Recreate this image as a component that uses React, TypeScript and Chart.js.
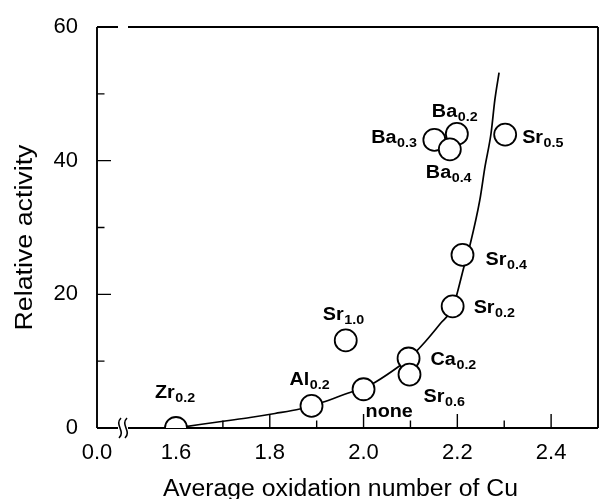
import React, { useEffect, useRef } from 'react';
import { Chart, registerables } from 'chart.js';

Chart.register(...registerables);

// ---- axis ----
const xAxisStart = 1.4315; // value at the (broken) y axis, labelled 0.0
const xAxisEnd = 2.5;
const xTickValues = [1.6, 1.8, 2.0, 2.2, 2.4];
const xMajorMarks = [1.8, 2.0, 2.2, 2.4];
const xMinorMarks = [1.7, 1.9, 2.1, 2.3];
const yTickValues = [0, 20, 40, 60];
const yMajorMarks = [20, 40];
const yMinorMarks = [10, 30, 50];

// ---- data points ----
const pointNames = ['Zr', 'Al', 'none', 'Sr', 'Ca', 'Sr', 'Sr', 'Sr', 'Ba', 'Ba', 'Ba', 'Sr'];
const pointSubs = ['0.2', '0.2', '', '1.0', '0.2', '0.6', '0.2', '0.4', '0.3', '0.2', '0.4', '0.5'];
const pointX = [1.6, 1.889, 2.0, 1.962, 2.096, 2.098, 2.19, 2.211, 2.151, 2.199, 2.184, 2.302];
const pointY = [0, 3.3, 5.8, 13.1, 10.4, 8.0, 18.2, 25.9, 43.1, 44.0, 41.7, 43.9];

// ---- fitted curve ----
const curveX = [1.6, 1.651, 1.7045, 1.758, 1.811, 1.864, 1.889, 1.918, 1.971, 1.999, 2.024, 2.078, 2.0975, 2.131, 2.163, 2.191, 2.2015, 2.214, 2.227, 2.248, 2.259, 2.272, 2.28, 2.289];
const curveY = [0, 0.52, 1.05, 1.57, 2.17, 2.84, 3.34, 3.97, 5.31, 5.91, 6.81, 9.35, 10.43, 12.87, 15.56, 18.1, 20.65, 24.09, 27.38, 34.12, 39.1, 44.14, 49.08, 53.17];

// label placement (pixel offsets from point centre: dx, dy, align)
const labelDx = [-21, -22, 2, -23, 22, 14, 21, 23, -18, -25, -24, 17];
const labelDy = [-30, -21, 28, -20, 7, 27, 7, 10, 3, -17, 29, 8];
const labelAlign = ['l', 'l', 'l', 'l', 'l', 'l', 'l', 'l', 'r', 'l', 'l', 'l'];

const FONT = '"Liberation Sans", Arial, sans-serif';

const framePlugin = {
  id: 'frame',
  beforeDatasetsDraw(chart: any) {
    const { ctx, chartArea } = chart;
    const xs = chart.scales.x;
    const ys = chart.scales.y;
    const L = chartArea.left, R = chartArea.right, T = chartArea.top, B = chartArea.bottom;
    ctx.save();
    ctx.strokeStyle = '#000';
    ctx.lineWidth = 1.9;
    ctx.lineCap = 'butt';
    ctx.beginPath();
    ctx.moveTo(L, T);
    ctx.lineTo(L, B);
    ctx.moveTo(L, B);
    ctx.lineTo(L + 21, B);
    ctx.moveTo(L + 31, B);
    ctx.lineTo(R, B);
    ctx.moveTo(R, B);
    ctx.lineTo(R, T);
    ctx.moveTo(R, T);
    ctx.lineTo(L + 31, T);
    ctx.moveTo(L + 21, T);
    ctx.lineTo(L, T);
    ctx.stroke();

    // break squiggles
    ctx.lineWidth = 1.6;
    [L + 23, L + 29].forEach((cx) => {
      ctx.beginPath();
      ctx.moveTo(cx + 1, B - 10);
      ctx.bezierCurveTo(cx - 6, B - 3, cx + 6, B + 3, cx - 1, B + 10);
      ctx.stroke();
    });

    ctx.lineWidth = 1.4;
    ctx.beginPath();
    xMajorMarks.forEach((v) => {
      const p = xs.getPixelForValue(v);
      ctx.moveTo(p, B);
      ctx.lineTo(p, B - 14);
    });
    xMinorMarks.forEach((v) => {
      const p = xs.getPixelForValue(v);
      ctx.moveTo(p, B);
      ctx.lineTo(p, B - 7.5);
    });
    yMajorMarks.forEach((v) => {
      const p = ys.getPixelForValue(v);
      ctx.moveTo(L, p);
      ctx.lineTo(L + 14, p);
    });
    yMinorMarks.forEach((v) => {
      const p = ys.getPixelForValue(v);
      ctx.moveTo(L, p);
      ctx.lineTo(L + 7.5, p);
    });
    ctx.stroke();
    ctx.restore();
  },
  afterDatasetsDraw(chart: any) {
    const { ctx } = chart;
    const xs = chart.scales.x;
    const ys = chart.scales.y;
    ctx.save();
    ctx.fillStyle = '#000';
    ctx.textBaseline = 'alphabetic';
    const stretch = 1.1;
    pointNames.forEach((name, i) => {
      const px = xs.getPixelForValue(pointX[i]);
      const py = ys.getPixelForValue(pointY[i]);
      ctx.font = `bold 18px ${FONT}`;
      const wMain = ctx.measureText(name).width * stretch;
      ctx.font = `bold 13px ${FONT}`;
      const wSub = ctx.measureText(pointSubs[i]).width * stretch;
      let left = px + labelDx[i];
      if (labelAlign[i] === 'r') left = px + labelDx[i] - wMain - wSub;
      const base = py + labelDy[i];
      ctx.save();
      ctx.translate(left, base);
      ctx.scale(stretch, 1);
      ctx.textAlign = 'left';
      ctx.font = `bold 18px ${FONT}`;
      ctx.fillText(name, 0, 0);
      ctx.font = `bold 13px ${FONT}`;
      ctx.fillText(pointSubs[i], wMain / stretch + 0.5, 4);
      ctx.restore();
    });

    // axis titles
    ctx.font = `23px ${FONT}`;
    ctx.textAlign = 'center';
    const xt = 'Average oxidation number of Cu';
    const xw = ctx.measureText(xt).width;
    ctx.save();
    ctx.translate(340.5, 496);
    ctx.scale(355 / xw, 1);
    ctx.fillText(xt, 0, 0);
    ctx.restore();

    const yt = 'Relative activity';
    const yw = ctx.measureText(yt).width;
    ctx.save();
    ctx.translate(32, 237.5);
    ctx.rotate(-Math.PI / 2);
    ctx.scale(186 / yw, 1);
    ctx.fillText(yt, 0, 0);
    ctx.restore();
    ctx.restore();
  },
};

export default function App() {
  const ref = useRef<HTMLCanvasElement>(null);
  useEffect(() => {
    if (!ref.current) return;
    const chart = new Chart(ref.current, {
      type: 'scatter',
      data: {
        datasets: [
          {
            label: 'samples',
            data: pointX.map((x, i) => ({ x, y: pointY[i] })),
            pointRadius: 11,
            pointHoverRadius: 11,
            pointBackgroundColor: '#fff',
            pointBorderColor: '#000',
            pointBorderWidth: 1.8,
            showLine: false,
          },
          {
            label: 'fit',
            data: curveX.map((x, i) => ({ x, y: curveY[i] })),
            showLine: true,
            pointRadius: 0,
            borderColor: '#000',
            borderWidth: 1.7,
            cubicInterpolationMode: 'monotone',
          } as any,
        ],
      },
      options: {
        animation: false,
        responsive: false,
        events: [],
        layout: { autoPadding: false, padding: { top: 27, right: 1, left: 0, bottom: 0 } },
        plugins: { legend: { display: false }, tooltip: { enabled: false } },
        scales: {
          x: {
            type: 'linear',
            min: xAxisStart,
            max: xAxisEnd,
            grid: { display: false, drawTicks: false },
            border: { display: false },
            afterBuildTicks: (s: any) => {
              s.ticks = [{ value: xAxisStart }, ...xTickValues.map((v) => ({ value: v }))];
            },
            afterFit: (s: any) => {
              s.height = 71;
              s.paddingLeft = 0;
              s.paddingRight = 0;
            },
            ticks: {
              autoSkip: false,
              maxRotation: 0,
              padding: 12,
              color: '#000',
              font: { family: FONT, size: 22 },
              callback: (v: any) => (Math.abs(v - xAxisStart) < 1e-6 ? '0.0' : Number(v).toFixed(1)),
            },
          },
          y: {
            type: 'linear',
            min: 0,
            max: 60,
            grid: { display: false, drawTicks: false },
            border: { display: false },
            afterBuildTicks: (s: any) => {
              s.ticks = yTickValues.map((v) => ({ value: v }));
            },
            afterFit: (s: any) => {
              s.width = 97;
              s.paddingTop = 0;
              s.paddingBottom = 0;
            },
            ticks: {
              padding: 19,
              color: '#000',
              font: { family: FONT, size: 22 },
              callback: (v: any) => String(v),
            },
          },
        },
      },
      plugins: [framePlugin],
    });
    return () => chart.destroy();
  }, []);
  return (
    <div style={{ position: 'absolute', left: 0, top: 0, width: 599, height: 499, background: '#fff' }}>
      <canvas ref={ref} width={599} height={499} />
    </div>
  );
}
